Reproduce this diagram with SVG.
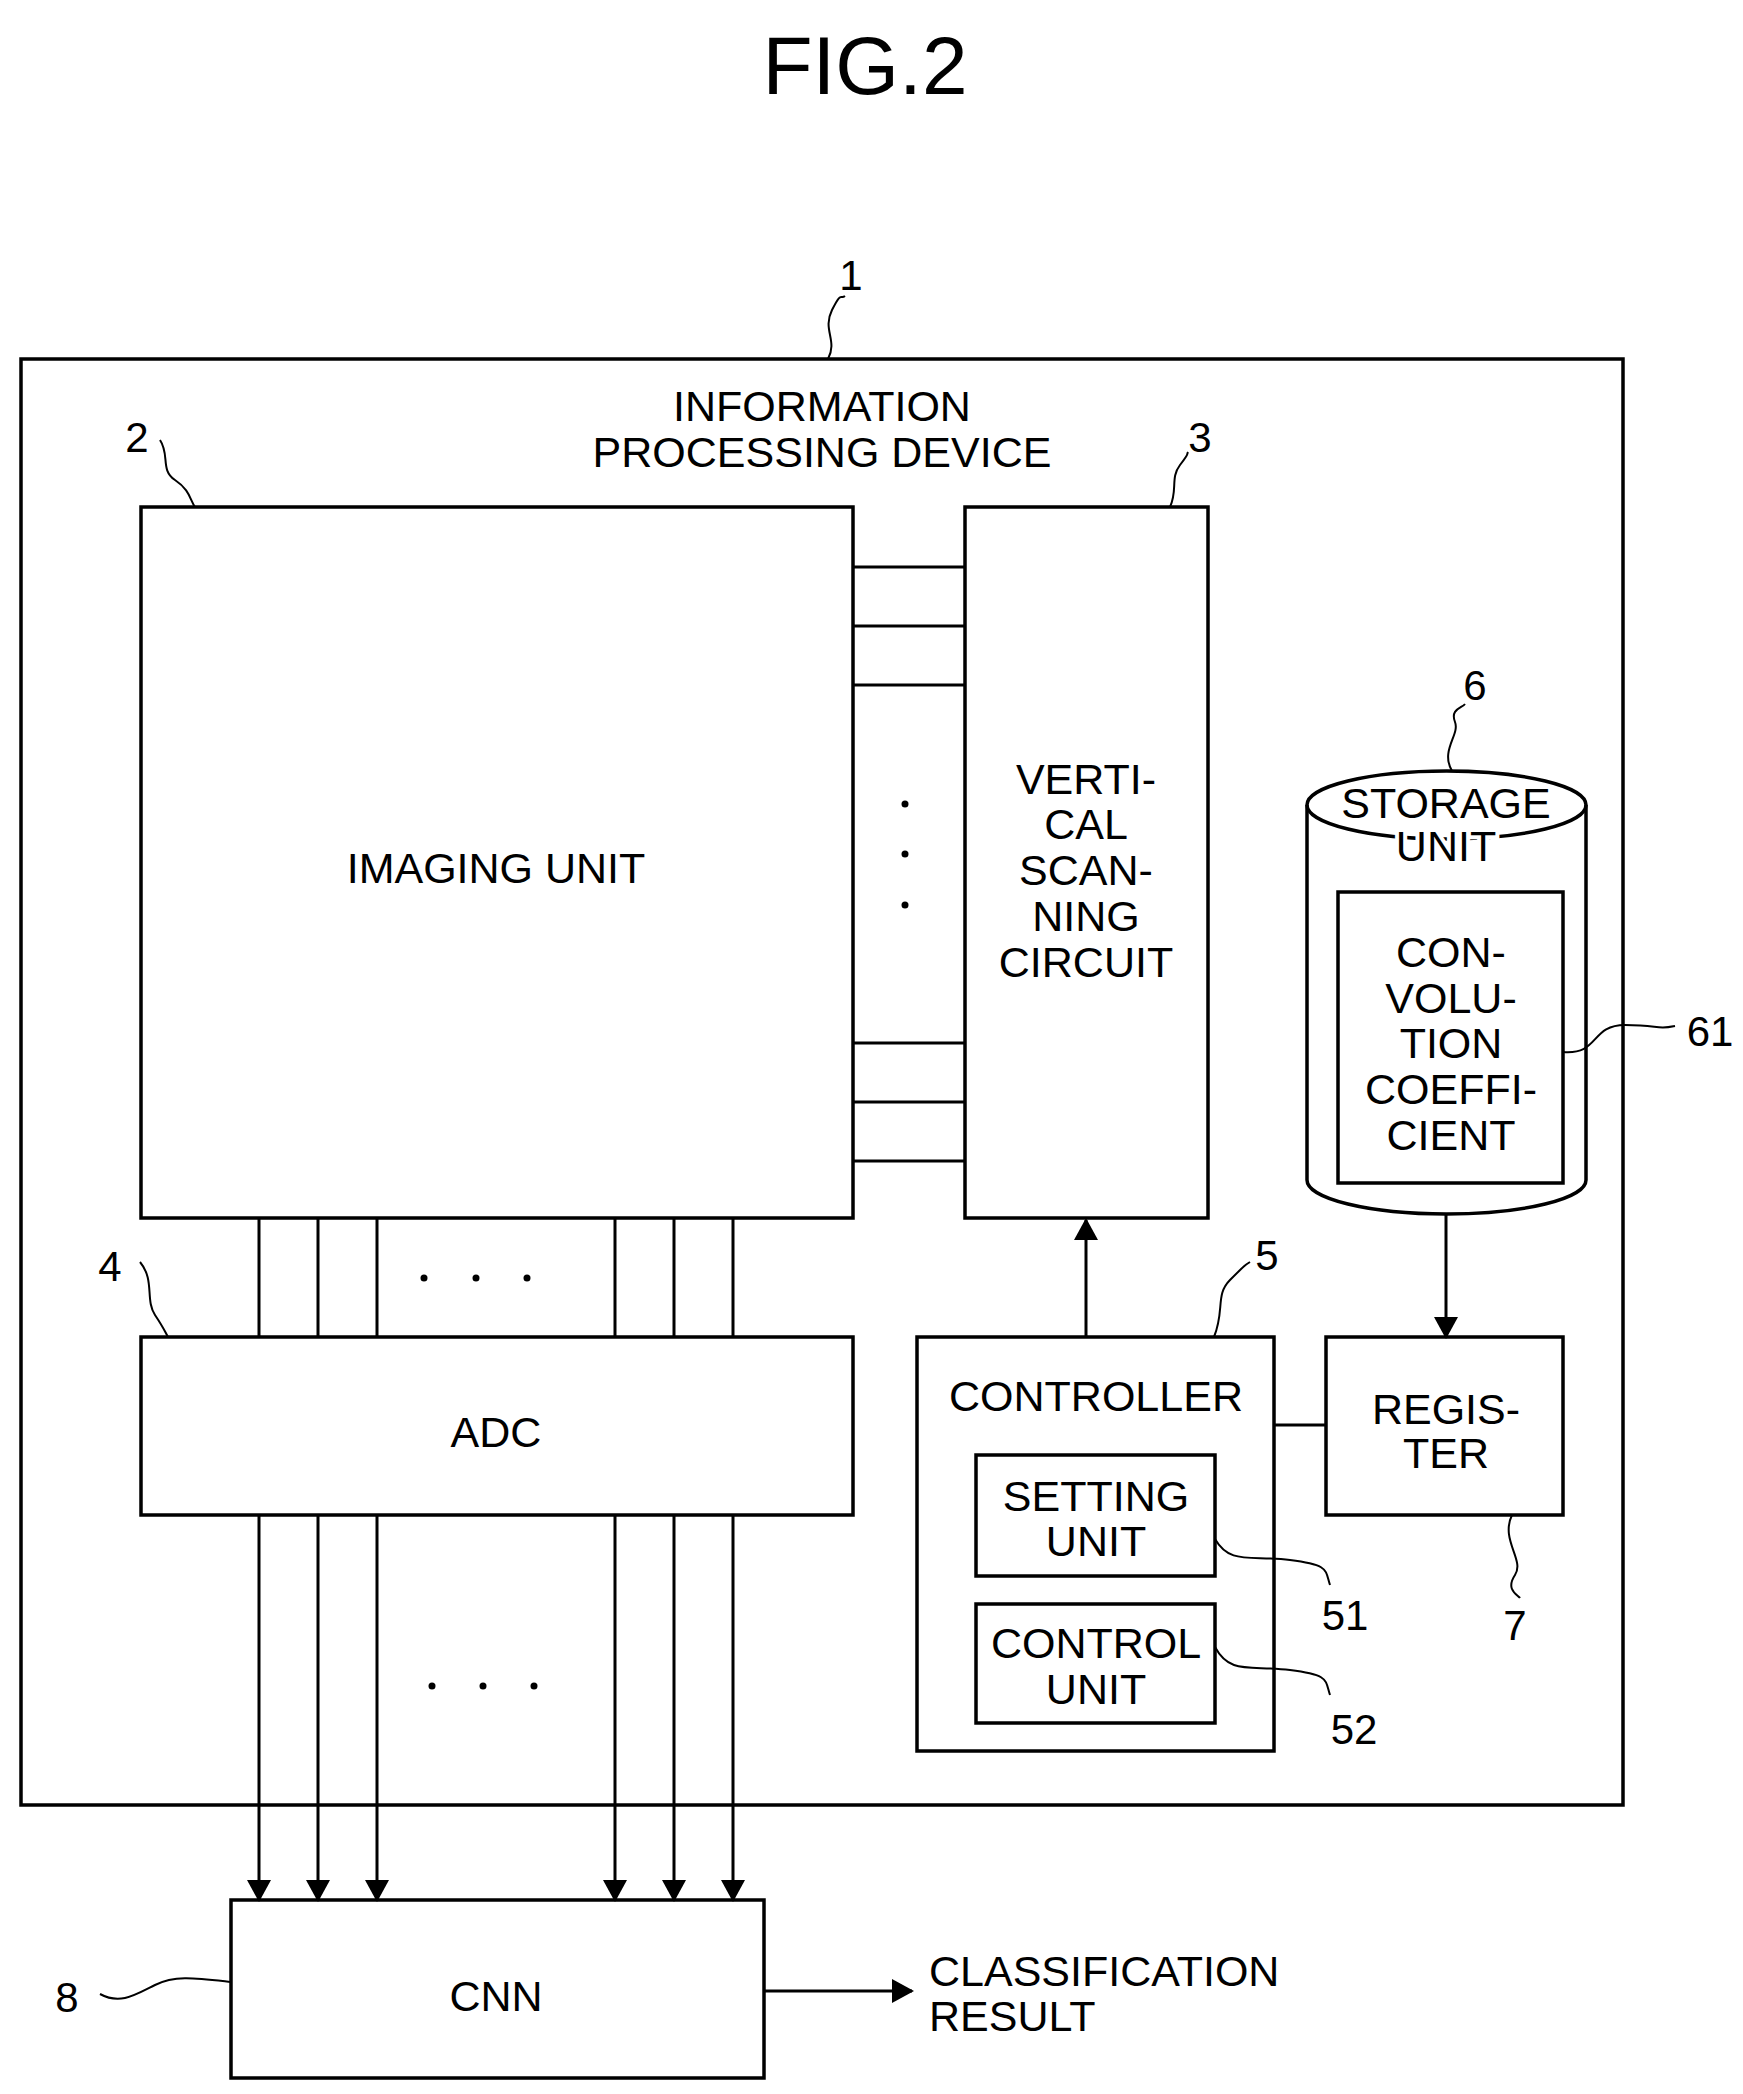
<svg xmlns="http://www.w3.org/2000/svg" width="1743" height="2094" viewBox="0 0 1743 2094">
<style>
.b{fill:none;stroke:#000;stroke-width:3.5}
.l{fill:none;stroke:#000;stroke-width:3}
.q{fill:none;stroke:#000;stroke-width:2}
text{font-family:"Liberation Sans",Arial,sans-serif;font-size:43px;fill:#000}
.c{text-anchor:middle}
.n{font-size:42px}
.h{stroke:#fff;stroke-width:8;paint-order:stroke}
</style>
<defs>
<marker id="ar" markerWidth="22" markerHeight="24" refX="20" refY="12" orient="auto" markerUnits="userSpaceOnUse"><path d="M0,0L22,12L0,24z"/></marker></defs>
<text x="865" y="94" class="c" style="font-size:82px">FIG.2</text>
<g id="device"><rect x="21" y="359" width="1602" height="1446" class="b"/>
<text x="822" y="421" class="c">INFORMATION</text><text x="822" y="467" class="c">PROCESSING DEVICE</text>
<text x="851" y="290" class="c n">1</text><path d="M828,359 C838,340 822,330 832,310 S840,300 845,296" class="q"/></g>
<g id="imaging"><rect x="141" y="507" width="712" height="711" class="b"/><text x="496" y="883" class="c">IMAGING UNIT</text>
<text x="137" y="452" class="c n">2</text><path d="M160,440 C170,455 160,470 175,480 S190,500 195,507" class="q"/></g>
<g id="vscan"><rect x="965" y="507" width="243" height="711" class="b"/>
<text x="1086" y="794" class="c">VERTI-</text><text x="1086" y="839" class="c">CAL</text><text x="1086" y="885" class="c">SCAN-</text><text x="1086" y="931" class="c">NING</text><text x="1086" y="977" class="c">CIRCUIT</text>
<text x="1200" y="452" class="c n">3</text><path d="M1170,507 C1178,490 1170,478 1180,465 S1186,456 1188,452" class="q"/></g>
<g id="storage"><path d="M1307,805 L1307,1180 A139.5,34 0 0 0 1586,1180 L1586,805" class="b"/><ellipse cx="1446.5" cy="805" rx="139.5" ry="34" class="b"/>
<text x="1446" y="818" class="c h">STORAGE</text><text x="1446" y="861" class="c h">UNIT</text>
<rect x="1338" y="892" width="225" height="291" class="b"/>
<text x="1451" y="967" class="c">CON-</text><text x="1451" y="1013" class="c">VOLU-</text><text x="1451" y="1058" class="c">TION</text><text x="1451" y="1104" class="c">COEFFI-</text><text x="1451" y="1150" class="c">CIENT</text>
<text x="1475" y="700" class="c n">6</text><path d="M1452,771 C1440,750 1460,735 1455,722 S1462,708 1465,704" class="q"/>
<text x="1710" y="1046" class="c n">61</text><path d="M1563,1052 C1600,1055 1590,1025 1625,1025 S1655,1030 1675,1026" class="q"/></g>
<g id="register"><rect x="1326" y="1337" width="237" height="178" class="b"/><text x="1446" y="1424" class="c">REGIS-</text><text x="1446" y="1468" class="c">TER</text>
<text x="1515" y="1640" class="c n">7</text><path d="M1512,1515 C1500,1540 1525,1560 1515,1575 S1518,1595 1520,1598" class="q"/></g>
<g id="controller"><rect x="917" y="1337" width="357" height="414" class="b"/><text x="1096" y="1411" class="c">CONTROLLER</text>
<text x="1267" y="1270" class="c n">5</text><path d="M1214,1337 C1225,1310 1215,1295 1230,1280 S1245,1265 1250,1262" class="q"/></g>
<g id="setting"><rect x="976" y="1455" width="239" height="121" class="b"/><text x="1096" y="1511" class="c">SETTING</text><text x="1096" y="1556" class="c">UNIT</text>
<text x="1345" y="1630" class="c n">51</text><path d="M1215,1539 C1230,1565 1250,1555 1290,1560 S1325,1570 1330,1585" class="q"/></g>
<g id="control"><rect x="976" y="1604" width="239" height="119" class="b"/><text x="1096" y="1658" class="c">CONTROL</text><text x="1096" y="1704" class="c">UNIT</text>
<text x="1354" y="1744" class="c n">52</text><path d="M1215,1647 C1230,1675 1250,1665 1290,1670 S1325,1680 1330,1695" class="q"/></g>
<g id="adc"><rect x="141" y="1337" width="712" height="178" class="b"/><text x="496" y="1447" class="c">ADC</text>
<text x="110" y="1281" class="c n">4</text><path d="M140,1262 C155,1280 145,1300 155,1315 S165,1332 168,1337" class="q"/></g>
<g id="cnn"><rect x="231" y="1900" width="533" height="178" class="b"/><text x="496" y="2011" class="c">CNN</text>
<text x="67" y="2012" class="c n">8</text><path d="M100,1994 C120,2005 135,1995 155,1985 S195,1978 231,1982" class="q"/></g>
<text x="929" y="1986">CLASSIFICATION</text><text x="929" y="2031">RESULT</text>
<g id="connectors" class="l">
<path d="M853,567H965M853,626H965M853,685H965M853,1043H965M853,1102H965M853,1161H965"/>
<path d="M259,1218V1337M318,1218V1337M377,1218V1337M615,1218V1337M674,1218V1337M733,1218V1337"/>
<path d="M259,1515V1900" marker-end="url(#ar)"/>
<path d="M318,1515V1900" marker-end="url(#ar)"/>
<path d="M377,1515V1900" marker-end="url(#ar)"/>
<path d="M615,1515V1900" marker-end="url(#ar)"/>
<path d="M674,1515V1900" marker-end="url(#ar)"/>
<path d="M733,1515V1900" marker-end="url(#ar)"/>
<path d="M1086,1337V1220" marker-end="url(#ar)"/>
<path d="M1446,1213V1337" marker-end="url(#ar)"/>
<path d="M1274,1425H1326"/>
<path d="M764,1991H912" marker-end="url(#ar)"/>
</g>
<g fill="#000"><circle cx="905" cy="804" r="3.5"/><circle cx="905" cy="854" r="3.5"/><circle cx="905" cy="905" r="3.5"/>
<circle cx="424" cy="1278" r="3.5"/><circle cx="476" cy="1278" r="3.5"/><circle cx="527" cy="1278" r="3.5"/>
<circle cx="432" cy="1686" r="3.5"/><circle cx="483" cy="1686" r="3.5"/><circle cx="534" cy="1686" r="3.5"/></g>
</svg>
